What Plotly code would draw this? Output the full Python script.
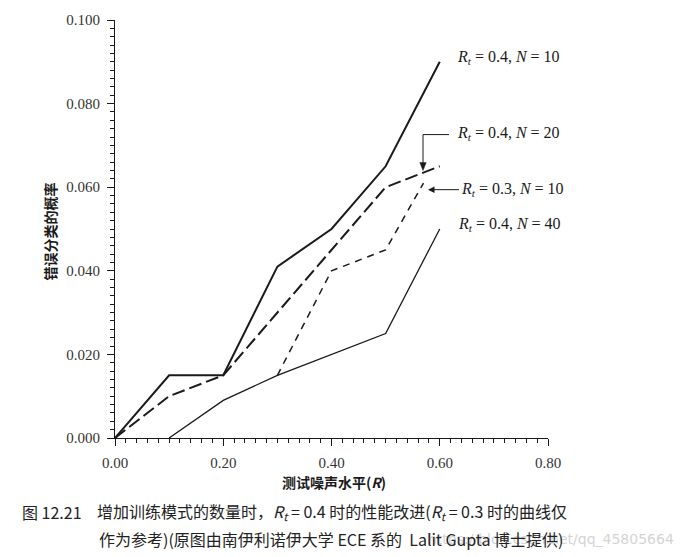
import plotly.graph_objects as go

# ---- data ----
x_n10 = [0.0, 0.1, 0.2, 0.3, 0.4, 0.5, 0.6]
y_n10 = [0.0, 0.015, 0.015, 0.041, 0.050, 0.065, 0.090]

x_n20 = [0.0, 0.1, 0.2, 0.3, 0.4, 0.5, 0.6]
y_n20 = [0.0, 0.010, 0.015, 0.030, 0.045, 0.060, 0.065]

x_r03 = [0.3, 0.4, 0.5, 0.57]
y_r03 = [0.015, 0.040, 0.045, 0.061]

x_n40 = [0.1, 0.2, 0.3, 0.4, 0.5, 0.6]
y_n40 = [0.0, 0.009, 0.015, 0.020, 0.025, 0.050]

x_ticks = [0.0, 0.2, 0.4, 0.6, 0.8]
y_ticks = [0.0, 0.02, 0.04, 0.06, 0.08, 0.10]

lbl_n10 = "<i>R</i><sub><i>t</i></sub> = 0.4, <i>N</i> = 10"
lbl_n20 = "<i>R</i><sub><i>t</i></sub> = 0.4, <i>N</i> = 20"
lbl_r03 = "<i>R</i><sub><i>t</i></sub> = 0.3, <i>N</i> = 10"
lbl_n40 = "<i>R</i><sub><i>t</i></sub> = 0.4, <i>N</i> = 40"

x_title = "测试噪声水平(<i>R</i>)"
y_title = "错误分类的概率"
cap_num = "图 12.21"
cap_l1 = "增加训练模式的数量时，<i>R</i><sub><i>t</i></sub> = 0.4 时的性能改进(<i>R</i><sub><i>t</i></sub> = 0.3 时的曲线仅"
cap_l2 = "作为参考)(原图由南伊利诺伊大学 ECE 系的  Lalit Gupta 博士提供)"
watermark = "https://blog.csdn.net/qq_45805664"

# ---- layout geometry ----
W, H = 683, 557
L, R, T, B = 115, 135, 13, 119
PW, PH = W - L - R, H - T - B

def px(x):
    return (x - L) / PW

def py(y):
    return (H - B - y) / PH

INK = "#1a1a1a"
SERIF = "Liberation Serif, Times New Roman, serif"
CJK = "Noto Sans CJK SC, sans-serif"

fig = go.Figure()
fig.add_trace(go.Scatter(x=x_n10, y=y_n10, mode="lines",
                         line=dict(color=INK, width=2.0), showlegend=False))
fig.add_trace(go.Scatter(x=x_n20, y=y_n20, mode="lines",
                         line=dict(color=INK, width=2.0, dash="13px,5px"), showlegend=False))
fig.add_trace(go.Scatter(x=x_r03, y=y_r03, mode="lines",
                         line=dict(color=INK, width=1.5, dash="7px,6px"), showlegend=False))
fig.add_trace(go.Scatter(x=x_n40, y=y_n40, mode="lines",
                         line=dict(color=INK, width=1.3), showlegend=False))

axis_common = dict(
    showgrid=False, zeroline=False, showline=True, linecolor=INK, linewidth=1.2,
    ticks="outside", tickcolor=INK, tickwidth=1.2, ticklen=7,
    tickfont=dict(family=SERIF, size=15, color="#333"),
)
fig.update_xaxes(range=[0, 0.8], tickvals=x_ticks, tickformat=".2f",
                 minor=dict(dtick=0.02, ticks="outside", ticklen=4, tickcolor=INK, tickwidth=1),
                 ticklabelstandoff=4, **axis_common)
fig.update_yaxes(range=[0, 0.1], tickvals=y_ticks, tickformat=".3f",
                 minor=dict(dtick=0.002, ticks="outside", ticklen=4, tickcolor=INK, tickwidth=1),
                 ticklabelstandoff=4, **axis_common)

ann = []
lab_font = dict(family=SERIF, size=16, color=INK)
for txt, xp, yp in [(lbl_n10, 455, 51), (lbl_n20, 455, 128), (lbl_n40, 456, 221)]:
    ann.append(dict(text=txt, xref="paper", yref="paper", x=px(xp), y=py(yp),
                    xanchor="left", yanchor="middle", showarrow=False, font=lab_font))

# R_t = 0.3 label carries its own arrow pointing left to the dashed curve
ann.append(dict(text=lbl_r03, xref="paper", yref="paper", x=px(428), y=py(185.5),
                xanchor="left", yanchor="middle", ax=31, ay=0, showarrow=True,
                arrowhead=2, arrowsize=1.3, arrowwidth=1, arrowcolor=INK, font=lab_font))

# axis titles
ann.append(dict(text=x_title, xref="paper", yref="paper", x=px(334), y=py(483),
                xanchor="center", yanchor="middle", showarrow=False,
                font=dict(family=CJK, size=14, color=INK, weight="bold")))
ann.append(dict(text=y_title, xref="paper", yref="paper", x=px(50), y=py(228),
                xanchor="center", yanchor="middle", showarrow=False, textangle=-90,
                font=dict(family=CJK, size=14, color=INK, weight="bold")))

# watermark + caption
ann.append(dict(text=watermark, xref="paper", yref="paper", x=px(676), y=py(541),
                xanchor="right", yanchor="middle", showarrow=False,
                font=dict(family="DejaVu Sans, sans-serif", size=14, color="#d4d4d4")))
cap_font = dict(family=CJK, size=16, color="#222")
ann.append(dict(text=cap_num, xref="paper", yref="paper", x=px(20), y=py(513),
                xanchor="left", yanchor="middle", showarrow=False, font=cap_font))
ann.append(dict(text=cap_l1, xref="paper", yref="paper", x=px(95), y=py(513),
                xanchor="left", yanchor="middle", showarrow=False, font=cap_font))
ann.append(dict(text=cap_l2, xref="paper", yref="paper", x=px(97), y=py(541),
                xanchor="left", yanchor="middle", showarrow=False, font=cap_font))

# elbow arrow for the N = 20 label
tipx, tipy = 423, 166
shapes = [
    dict(type="line", xref="paper", yref="paper",
         x0=px(423), y0=py(129.5), x1=px(449), y1=py(129.5),
         line=dict(color=INK, width=1)),
    dict(type="line", xref="paper", yref="paper",
         x0=px(423), y0=py(129.5), x1=px(423), y1=py(159),
         line=dict(color=INK, width=1)),
    dict(type="path", xref="paper", yref="paper",
         path=f"M {px(tipx-3.2)} {py(tipy-8)} L {px(tipx+3.2)} {py(tipy-8)} L {px(tipx)} {py(tipy)} Z",
         fillcolor=INK, line=dict(color=INK, width=0.5)),
]

fig.update_layout(width=W, height=H, autosize=False,
                  margin=dict(l=L, r=R, t=T, b=B, pad=0),
                  paper_bgcolor="white", plot_bgcolor="white",
                  annotations=ann, shapes=shapes)

fig.write_html("out.html", config={"displayModeBar": False},
               post_script="document.body.style.margin='0';document.body.style.overflow='hidden';")
